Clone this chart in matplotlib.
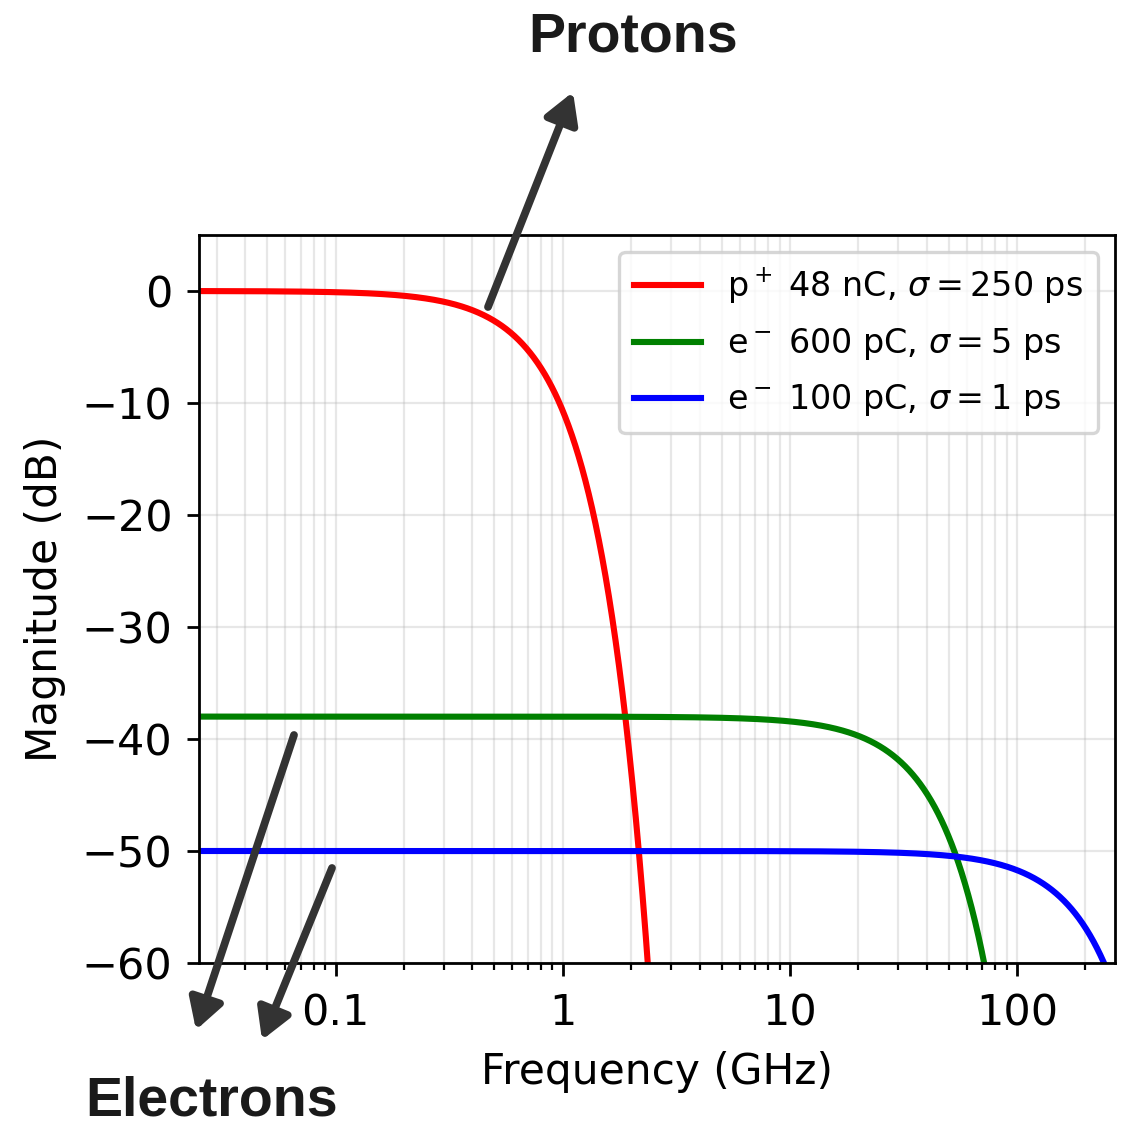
import numpy as np
import matplotlib
matplotlib.use('Agg')
import matplotlib.pyplot as plt
from matplotlib.ticker import FuncFormatter

# bunch parameters: level at DC (dB) and rms length (ps)
labels = [r'p$^+$ 48 nC, $\sigma = 250$ ps',
          r'e$^-$ 600 pC, $\sigma = 5$ ps',
          r'e$^-$ 100 pC, $\sigma = 1$ ps']
dc_level_db = [0.0, -38.0, -50.0]
sigma_ps = [250.0, 5.0, 1.0]
colors = ['red', 'green', 'blue']

f_min, f_max = 0.025, 270.0          # GHz
y_min, y_max = -60, 5
yticks = [0, -10, -20, -30, -40, -50, -60]

DPI = 200
fig = plt.figure(figsize=(1127 / DPI, 1131 / DPI), dpi=DPI)
ax = fig.add_axes([199 / 1127, 1 - 963 / 1131, (1115 - 199) / 1127, (963 - 235) / 1131])

f = np.logspace(np.log10(f_min), np.log10(f_max), 3000)
for lvl, sig, c, lab in zip(dc_level_db, sigma_ps, colors, labels):
    # gaussian bunch form factor |exp(-(w s)^2 / 2)| in dB
    w_s = 2 * np.pi * f * 1e9 * sig * 1e-12
    mag = lvl + 20 * np.log10(np.exp(-w_s ** 2 / 2))
    ax.plot(f, mag, color=c, lw=2.2, label=lab)

ax.set_xscale('log')
ax.set_xlim(f_min, f_max)
ax.set_ylim(y_min, y_max)
ax.set_yticks(yticks)
ax.xaxis.set_major_formatter(FuncFormatter(lambda v, p: '%g' % v))
ax.tick_params(axis='both', which='major', labelsize=15.5, length=4.5, width=1, pad=5)
ax.tick_params(axis='x', which='minor', length=2.5, width=0.8)
ax.tick_params(axis='x', which='major', pad=6)
ax.grid(which='both', color='#b0b0b0', alpha=0.3, lw=0.8)
for s in ax.spines.values():
    s.set_linewidth(1)

ax.set_xlabel('Frequency (GHz)', fontsize=15.2, labelpad=6)
ax.set_ylabel('Magnitude (dB)', fontsize=15.2, labelpad=5.5)

leg = ax.legend(loc='upper right', fontsize=12, handlelength=2.0, labelspacing=0.6,
                borderpad=0.45, borderaxespad=0.5, framealpha=0.8)
leg.get_frame().set_linewidth(1.2)

# species call-outs
def fig_xy(px, py):
    return (px / 1127, 1 - py / 1131)

arrow = dict(arrowstyle='-|>,head_length=0.45,head_width=0.26', color='#333333',
             lw=2.8, shrinkA=0, shrinkB=0, mutation_scale=20)
ax.annotate('', xy=fig_xy(573, 92), xytext=fig_xy(488, 307),
            xycoords='figure fraction', textcoords='figure fraction',
            arrowprops=arrow, annotation_clip=False)
ax.annotate('', xy=fig_xy(196, 1030), xytext=fig_xy(294, 735),
            xycoords='figure fraction', textcoords='figure fraction',
            arrowprops=arrow, annotation_clip=False)
ax.annotate('', xy=fig_xy(262, 1040), xytext=fig_xy(332, 868),
            xycoords='figure fraction', textcoords='figure fraction',
            arrowprops=arrow, annotation_clip=False)

fig.text(*fig_xy(633, 52), 'Protons', ha='center', va='baseline',
         fontsize=20, fontweight='bold', family='Liberation Sans', color='#1a1a1a')
fig.text(*fig_xy(85, 1116), 'Electrons', ha='left', va='baseline',
         fontsize=20, fontweight='bold', family='Liberation Sans', color='#1a1a1a')

fig.savefig('out.png', dpi=DPI)
